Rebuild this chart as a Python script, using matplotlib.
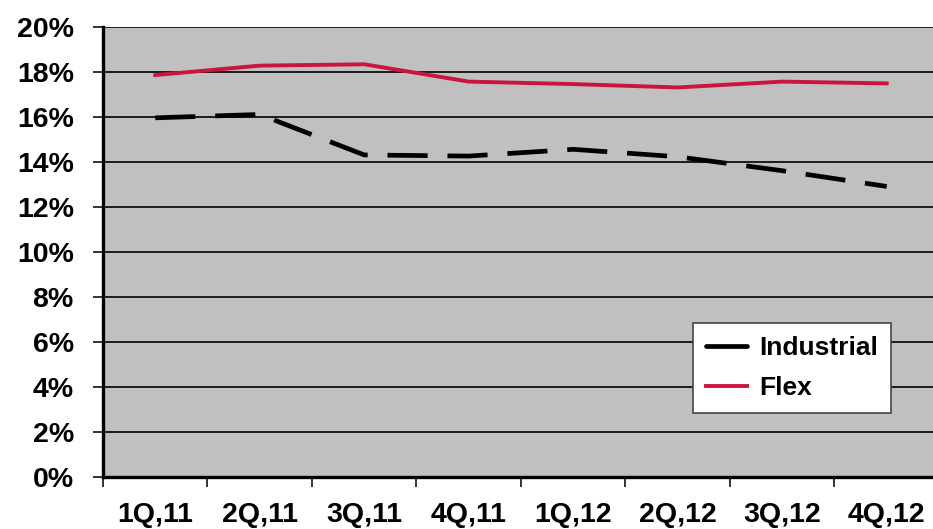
import matplotlib
matplotlib.use("Agg")
import matplotlib.pyplot as plt
from matplotlib.lines import Line2D
from matplotlib.ticker import FuncFormatter

quarters = ["1Q,11", "2Q,11", "3Q,11", "4Q,11", "1Q,12", "2Q,12", "3Q,12", "4Q,12"]
industrial = [15.95, 16.1, 14.3, 14.25, 14.55, 14.22, 13.6, 12.9]
flex = [17.85, 18.27, 18.33, 17.56, 17.45, 17.3, 17.56, 17.48]

plt.rcParams['font.family'] = ['Liberation Sans', 'DejaVu Sans']
plt.rcParams['font.weight'] = 'bold'

fig = plt.figure(figsize=(9.33, 5.29), dpi=100)
ax = fig.add_axes([0.1104, 0.0989, 0.896, 0.8506])
ax.set_facecolor('#c0c0c0')

x = list(range(len(quarters)))
ax.plot(x, industrial, color='black', lw=3.4, dashes=(8.5, 4.2),
        solid_capstyle='butt', dash_capstyle='butt', zorder=3)
flex_line, = ax.plot(x, flex, color='#c8163f', lw=2.8, zorder=3)

ax.set_xlim(-0.5, 7.5)
ax.set_ylim(0, 20)
ax.set_yticks(range(0, 21, 2))
ax.yaxis.set_major_formatter(FuncFormatter(lambda v, p: f"{int(v)}%"))
ax.grid(axis='y', color='black', lw=1.2, zorder=1)
ax.set_axisbelow(True)

ax.set_xticks(x)
ax.set_xticklabels(quarters)
ax.set_xticks([i - 0.5 for i in range(len(quarters) + 1)], minor=True)
ax.tick_params(axis='x', which='major', length=0, pad=18, labelsize=20.5)
ax.tick_params(axis='x', which='minor', length=7, width=1.4, color='#333333', direction='out')
ax.tick_params(axis='y', length=7, width=1.4, color='#333333', direction='out', pad=14, labelsize=20.5)

for s in ['top', 'right']:
    ax.spines[s].set_visible(False)
ax.spines['left'].set_linewidth(2.4)
ax.spines['bottom'].set_linewidth(2.4)

# short legend handle shows as one solid dash
ind_handle = Line2D([], [], color='black', lw=3.4, solid_capstyle='round')
leg = ax.legend([ind_handle, flex_line], ['Industrial', 'Flex'],
                loc='upper left', bbox_to_anchor=(0.706, 0.3415), borderaxespad=0,
                fontsize=19, handlelength=1.55, handletextpad=0.45, labelspacing=0.6,
                borderpad=0.5, fancybox=False, framealpha=1, edgecolor='#444444')
leg.get_frame().set_linewidth(1.2)

fig.savefig("out.png", dpi=100)
